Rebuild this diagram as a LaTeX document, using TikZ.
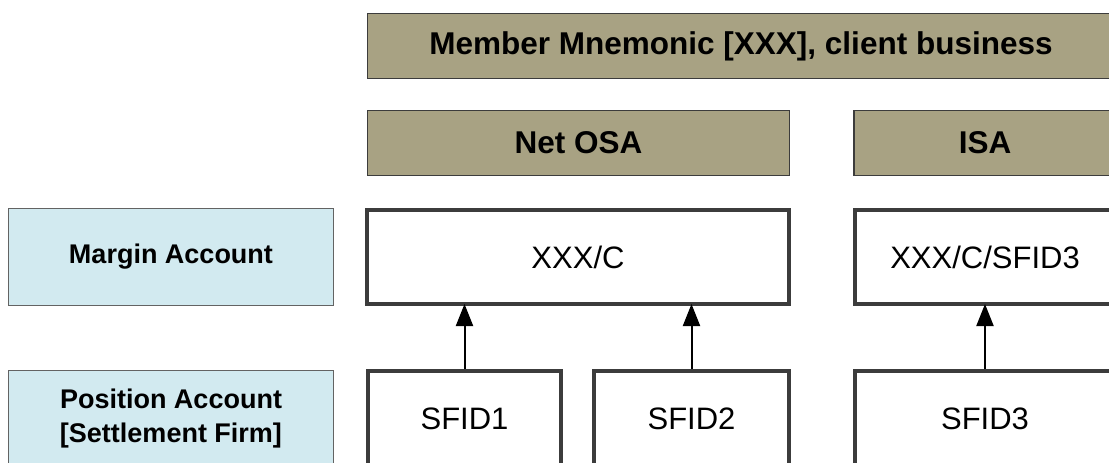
\documentclass[tikz,border=0pt]{standalone}
\usepackage{fontspec}
\setmainfont{Liberation Sans}
\usetikzlibrary{arrows.meta}
\definecolor{tanfill}{RGB}{168,162,131}
\definecolor{lblfill}{RGB}{210,234,240}
\definecolor{edgegray}{RGB}{60,60,60}
\begin{document}
\begin{tikzpicture}[x=1pt, y=-1pt,
    head/.style={rectangle, draw=edgegray, line width=1.5pt, fill=tanfill, inner sep=0pt, minimum height=65pt, font=\fontsize{31.5}{36}\selectfont\bfseries},
    lbl/.style={rectangle, draw=edgegray!80, line width=1.5pt, fill=lblfill, inner sep=0pt, minimum width=325pt, minimum height=97pt, align=center, font=\fontsize{27}{34}\selectfont\bfseries},
    acct/.style={rectangle, draw=edgegray, line width=4pt, fill=white, inner sep=0pt, font=\fontsize{31}{36}\selectfont},
    link/.style={line width=2pt, -{Triangle[length=22pt,width=17pt]}, shorten >=-2pt}]
        \clip (0,0) rectangle (1109,463);
        \fill[white] (0,0) rectangle (1109,463);

        \node[head, minimum width=747pt] (member) at (741, 46) {Member Mnemonic [XXX], client business};
        \node[head, minimum width=422pt] (netosa) at (578.5, 143) {Net OSA};
        \node[head, minimum width=262pt] (isa) at (985, 143) {ISA};

        \node[lbl] (marginlbl) at (171, 257) {Margin Account};
        \node[lbl] (poslbl) at (171, 419) {Position Account\\{}[Settlement Firm]};

        \node[acct, minimum width=422pt, minimum height=94pt] (xxxc) at (578, 257) {XXX/C};
        \node[acct, minimum width=260pt, minimum height=94pt] (xxxcsfid) at (985, 257) {XXX/C/SFID3};

        \node[acct, minimum width=193pt, minimum height=96pt] (sfid1) at (464.5, 419) {SFID1};
        \node[acct, minimum width=195pt, minimum height=96pt] (sfid2) at (691.5, 419) {SFID2};
        \node[acct, minimum width=260pt, minimum height=96pt] (sfid3) at (985, 419) {SFID3};

        \draw[link] (sfid1.north) -- (sfid1.north |- xxxc.south);
        \draw[link] (sfid2.north) -- (sfid2.north |- xxxc.south);
        \draw[link] (sfid3.north) -- (xxxcsfid.south);

    \end{tikzpicture}
\end{document}
